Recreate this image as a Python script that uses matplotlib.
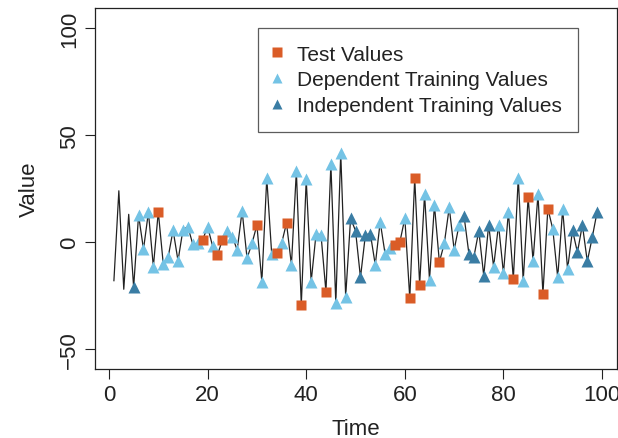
import numpy as np
import matplotlib
matplotlib.use("Agg")
import matplotlib.pyplot as plt

plt.rcParams['font.family'] = ['Liberation Sans', 'DejaVu Sans']

# series observed at each time step
time = np.arange(1, 100)
value = [-18, 24, -22, 13, -21, 12.6, -3.3, 14, -11.5, 14.2,
         -10, -7, 5.6, -8.7, 5.8, 7.2, -1, -0.6, 1.1, 7.2,
         -1.7, -6, 1.1, 5, 2.6, -3.6, 14.6, -7.5, -0.6, 8,
         -18.5, 30, -5.6, -5.1, -0.6, 8.9, -10.6, 33.3, -29.3, 29.3,
         -18.5, 4, 3.4, -23.2, 36.4, -28.5, 41.6, -25.4, 11.2, 5.3,
         -16.5, 3.4, 4, -10.6, 9.5, -5.6, -2.5, -1.2, 0.2, 11.2,
         -26.2, 29.9, -19.9, 22.4, -17.6, 17.4, -9.3, -0.6, 16.2, -3.6,
         8.1, 12.3, -5.6, -6.9, 5.3, -15.7, 8.1, -11.5, 8.1, -14.6,
         14.3, -17.3, 30.2, -18.1, 20.9, -8.7, 22.4, -24.1, 15.7, 6.1,
         -16.5, 15.4, -12.6, 5.6, -4.8, 8.1, -9, 2.2, 14.3]

test_t = [10, 19, 22, 23, 30, 34, 36, 39, 44, 58, 59, 61, 62, 63, 67, 82, 85, 88, 89]
indep_t = [5, 49, 50, 51, 52, 53, 72, 73, 74, 75, 76, 77, 94, 95, 96, 97, 98, 99]
dep_t = [t for t in range(6, 94) if t not in test_t and t not in indep_t]

series = dict(zip(time, value))

orange = "#DA5C27"
light = "#74C3E5"
dark = "#3A7DA4"
ink = "#222222"
fs = 16

fig = plt.figure(figsize=(6.18, 4.39), dpi=100)
ax = fig.add_axes([0.154, 0.157, 0.845, 0.822])

ax.plot(time, value, color=ink, lw=0.9, zorder=1)
ax.plot(test_t, [series[t] for t in test_t], ls="none", marker="s", ms=7.5,
        color=orange, mec="none", label="Test Values", zorder=3)
ax.plot(dep_t, [series[t] for t in dep_t], ls="none", marker="^", ms=9,
        color=light, mec="none", label="Dependent Training Values", zorder=2)
ax.plot(indep_t, [series[t] for t in indep_t], ls="none", marker="^", ms=9,
        color=dark, mec="none", label="Independent Training Values", zorder=2)

ax.set_xlim(-2.8, 103.1)
ax.set_ylim(-59.3, 109.3)
ax.set_xticks([0, 20, 40, 60, 80, 100])
ax.set_yticks([-50, 0, 50, 100])
ax.tick_params(direction="out", length=7, width=0.8, labelsize=fs, colors=ink, pad=4)
for lbl in ax.get_yticklabels():
    lbl.set_rotation(90)
    lbl.set_va("center")
for s in ax.spines.values():
    s.set_color(ink)
    s.set_linewidth(0.9)

ax.set_xlabel("Time", fontsize=fs, color=ink, labelpad=9)
ax.set_ylabel("Value", fontsize=fs, color=ink, labelpad=14)

leg = ax.legend(loc="upper left", bbox_to_anchor=(0.312, 0.945), fontsize=15,
                frameon=True, fancybox=False, edgecolor="#333333",
                handlelength=0.2, handletextpad=0.85, borderpad=0.8,
                labelspacing=0.32, borderaxespad=0)
leg.get_frame().set_linewidth(0.9)
for h in leg.legend_handles:
    h.set_markersize(7)
for t in leg.get_texts():
    t.set_color(ink)

fig.savefig("out.png", dpi=100)
